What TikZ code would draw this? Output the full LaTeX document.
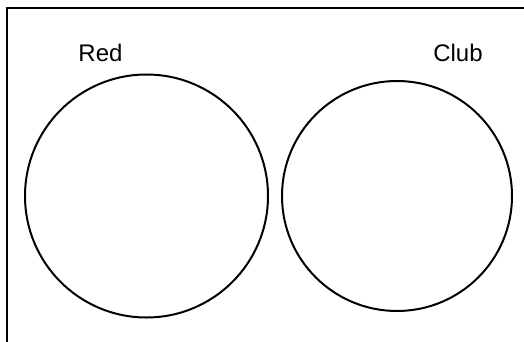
\documentclass[tikz,border=0pt]{standalone}
\usepackage{fontspec}
\setmainfont{Liberation Sans}
\begin{document}
\begin{tikzpicture}[x=1pt,y=-1pt,
  set/.style={draw=black,line width=2pt,circle,inner sep=0pt},
  lbl/.style={font=\fontsize{24}{28}\selectfont,anchor=base,inner sep=0pt}]
\useasboundingbox (0,0) rectangle (524,342);
\coordinate (bl) at (7,342);
\coordinate (tl) at (7,8);
\coordinate (tr) at (524,8);
\draw[line width=2pt] (bl) -- (tl) -- (tr);
\node[set,minimum size=243pt] (red) at (146.5,196) {};
\node[set,minimum size=230pt] (club) at (397,196) {};
\node[lbl] (redl) at (100.5,62) {Red};
\node[lbl] (clubl) at (458,62) {Club};
\end{tikzpicture}
\end{document}
